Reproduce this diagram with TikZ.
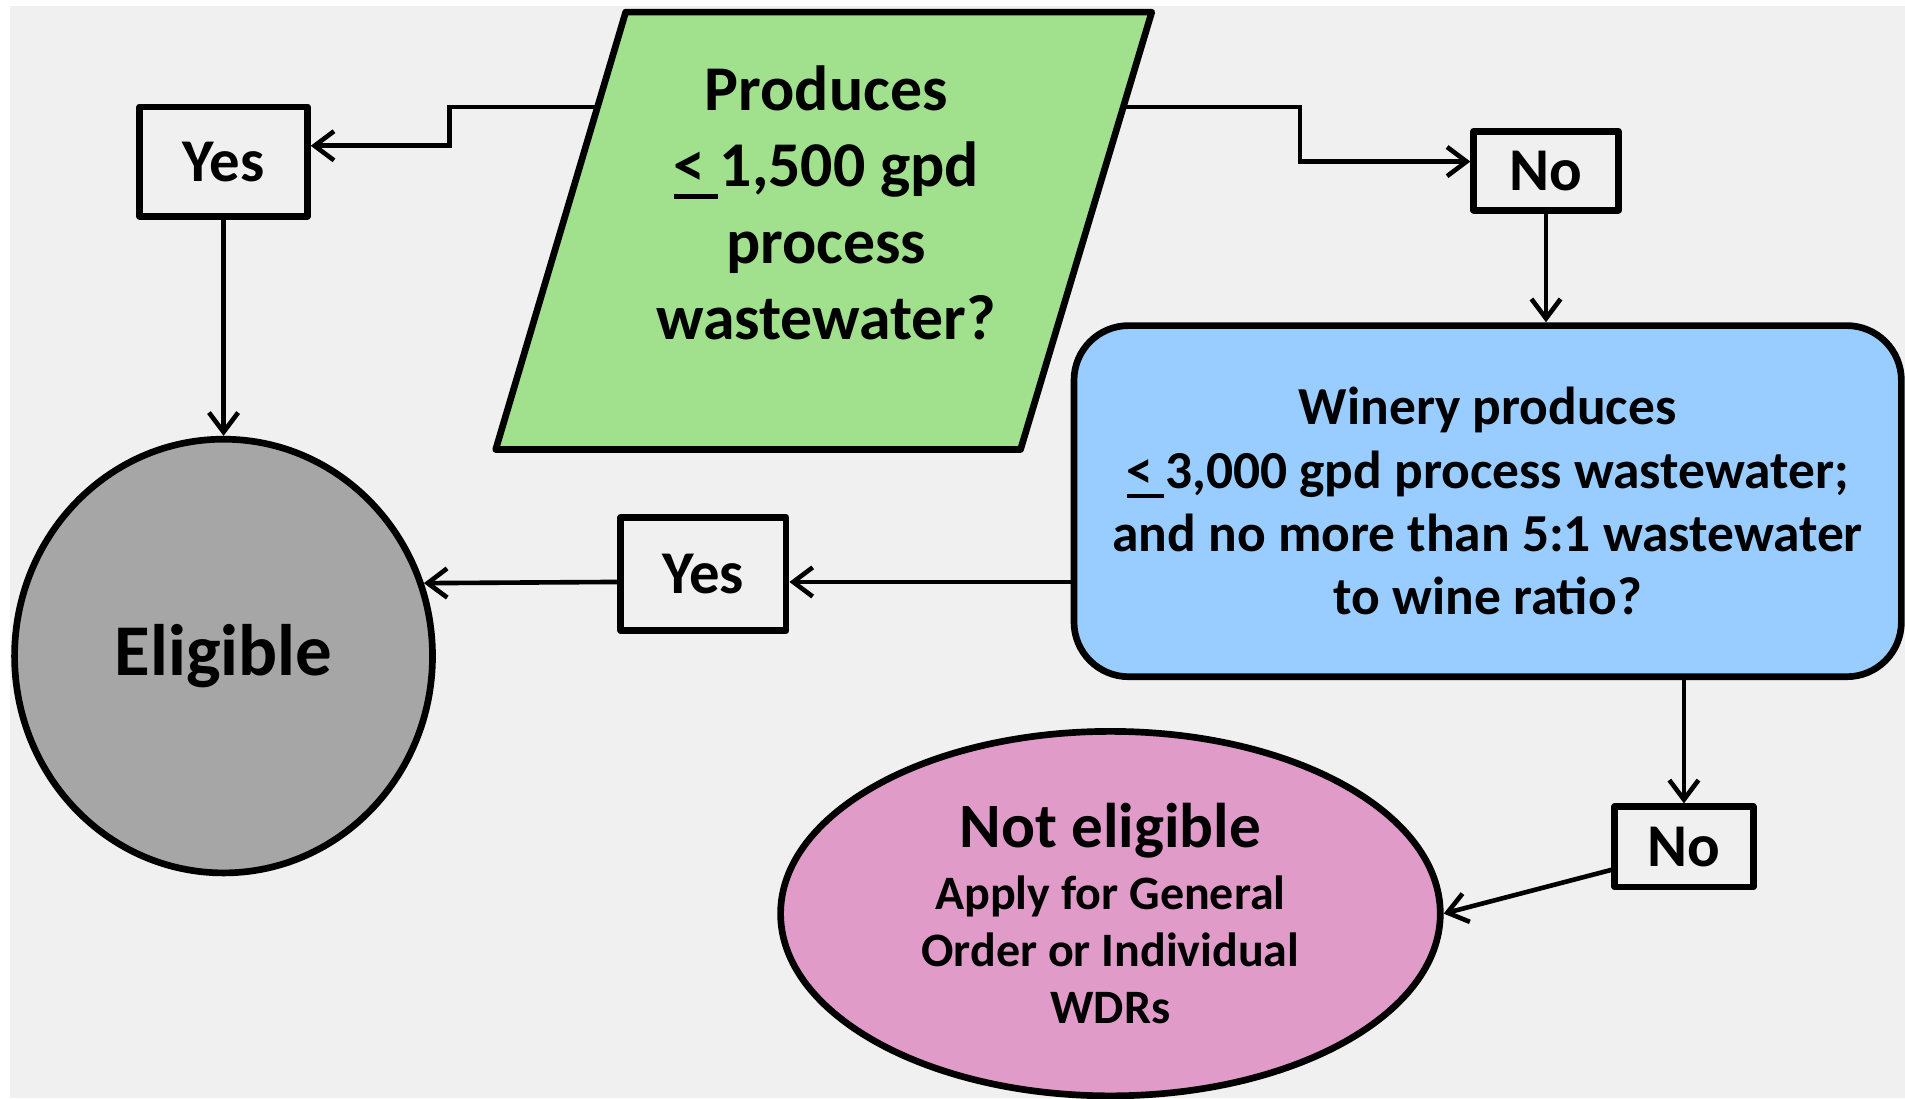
\documentclass[tikz,border=0pt]{standalone}
\usepackage{fontspec}
\setmainfont{Carlito}
\usetikzlibrary{shapes.geometric,arrows.meta,shadows,calc}
\definecolor{bggray}{RGB}{240,240,240}
\definecolor{qgreen}{RGB}{161,224,141}
\definecolor{qblue}{RGB}{153,204,255}
\definecolor{elgray}{RGB}{166,166,166}
\definecolor{nepink}{RGB}{224,155,200}
% underlined < for "at most"
\newcommand{\atmost}{\rlap{\rule[-0.19em]{0.7em}{0.075em}}<\ }
\begin{document}
\begin{tikzpicture}[x=1pt, y=-1pt,
    every node/.style={align=center, inner sep=0pt},
    shade/.style={drop shadow={opacity=0.3, shadow xshift=2pt, shadow yshift=-2pt}},
    shape border/.style={draw, line width=5.5pt, line join=round},
    answer/.style={shape border, fill=bggray, shade, font=\bfseries\fontsize{50}{60}\selectfont},
    link/.style={line width=3.8pt, -{Straight Barb[length=16pt, width=24pt]}}]
    % background
    \fill[white] (0,0) rectangle (1568,904);
    \fill[bggray] (8,5) rectangle (1568,904);
    \useasboundingbox (0,0) rectangle (1568,904);
    % first question
    \coordinate (q1tl) at (515,10);
    \coordinate (q1tr) at (948,10);
    \coordinate (q1br) at (840,370);
    \coordinate (q1bl) at (408,370);
    \draw[shape border, fill=qgreen, shade] (q1tl) -- (q1tr) -- (q1br) -- (q1bl) -- cycle;
    \node[font=\bfseries\fontsize{52.5}{63}\selectfont] (q1) at (680,167)
        {Produces\\\atmost 1,500 gpd\\process\\wastewater?};
    % second question
    \node[shape border, rounded corners=45pt, fill=qblue, shade, minimum width=681pt, minimum height=289pt,
          font=\bfseries\fontsize{44}{52}\selectfont] (q2) at (1224.5,412.5)
        {Winery produces\\\atmost 3,000 gpd process wastewater;\\and no more than 5:1 wastewater\\to wine ratio?};
    % answers
    \node[answer, minimum width=138pt, minimum height=90pt] (yes1) at (184,133) {Yes};
    \node[answer, minimum width=119pt, minimum height=65pt] (no1) at (1272.5,140.5) {No};
    \node[answer, minimum width=136pt, minimum height=93pt] (yes2) at (579,472.5) {Yes};
    \node[answer, minimum width=114pt, minimum height=66pt] (no2) at (1386,697) {No};
    % outcomes
    \node[ellipse, shape border, fill=elgray, shade, minimum width=344pt, minimum height=357pt,
          font=\bfseries\fontsize{60}{72}\selectfont] (elig) at (184,540) {Eligible};
    \node[ellipse, shape border, fill=nepink, shade, minimum width=543pt, minimum height=300pt,
          font=\bfseries\fontsize{39.5}{47}\selectfont] (notel) at (914,752)
        {{\fontsize{52}{56}\selectfont Not eligible}\\[4pt]Apply for General\\Order or Individual\\WDRs};
    % connectors
    \coordinate (q1left) at ($(q1tl)!0.217!(q1bl)$);
    \coordinate (q1right) at ($(q1tr)!0.217!(q1br)$);
    \coordinate (bend1) at (370,120);
    \coordinate (bend2) at (1070,133);
    \coordinate (out2) at (884,479);
    \draw[link] (q1left) -| (bend1) -- (bend1 -| yes1.east);
    \draw[link] (q1right) -| (bend2) -- (bend2 -| no1.west);
    \draw[link] (yes1.south) -- (elig.north);
    \draw[link] (no1.south) -- (no1.south |- q2.north);
    \draw[link] (out2) -- (out2 -| yes2.east);
    \draw[link] (out2 -| yes2.west) -- (elig.20.7);
    \draw[link] (q2.south -| no2.north) -- (no2.north);
    \draw[link] ([yshift=-19pt]no2.west) -- (notel.east);
\end{tikzpicture}
\end{document}
